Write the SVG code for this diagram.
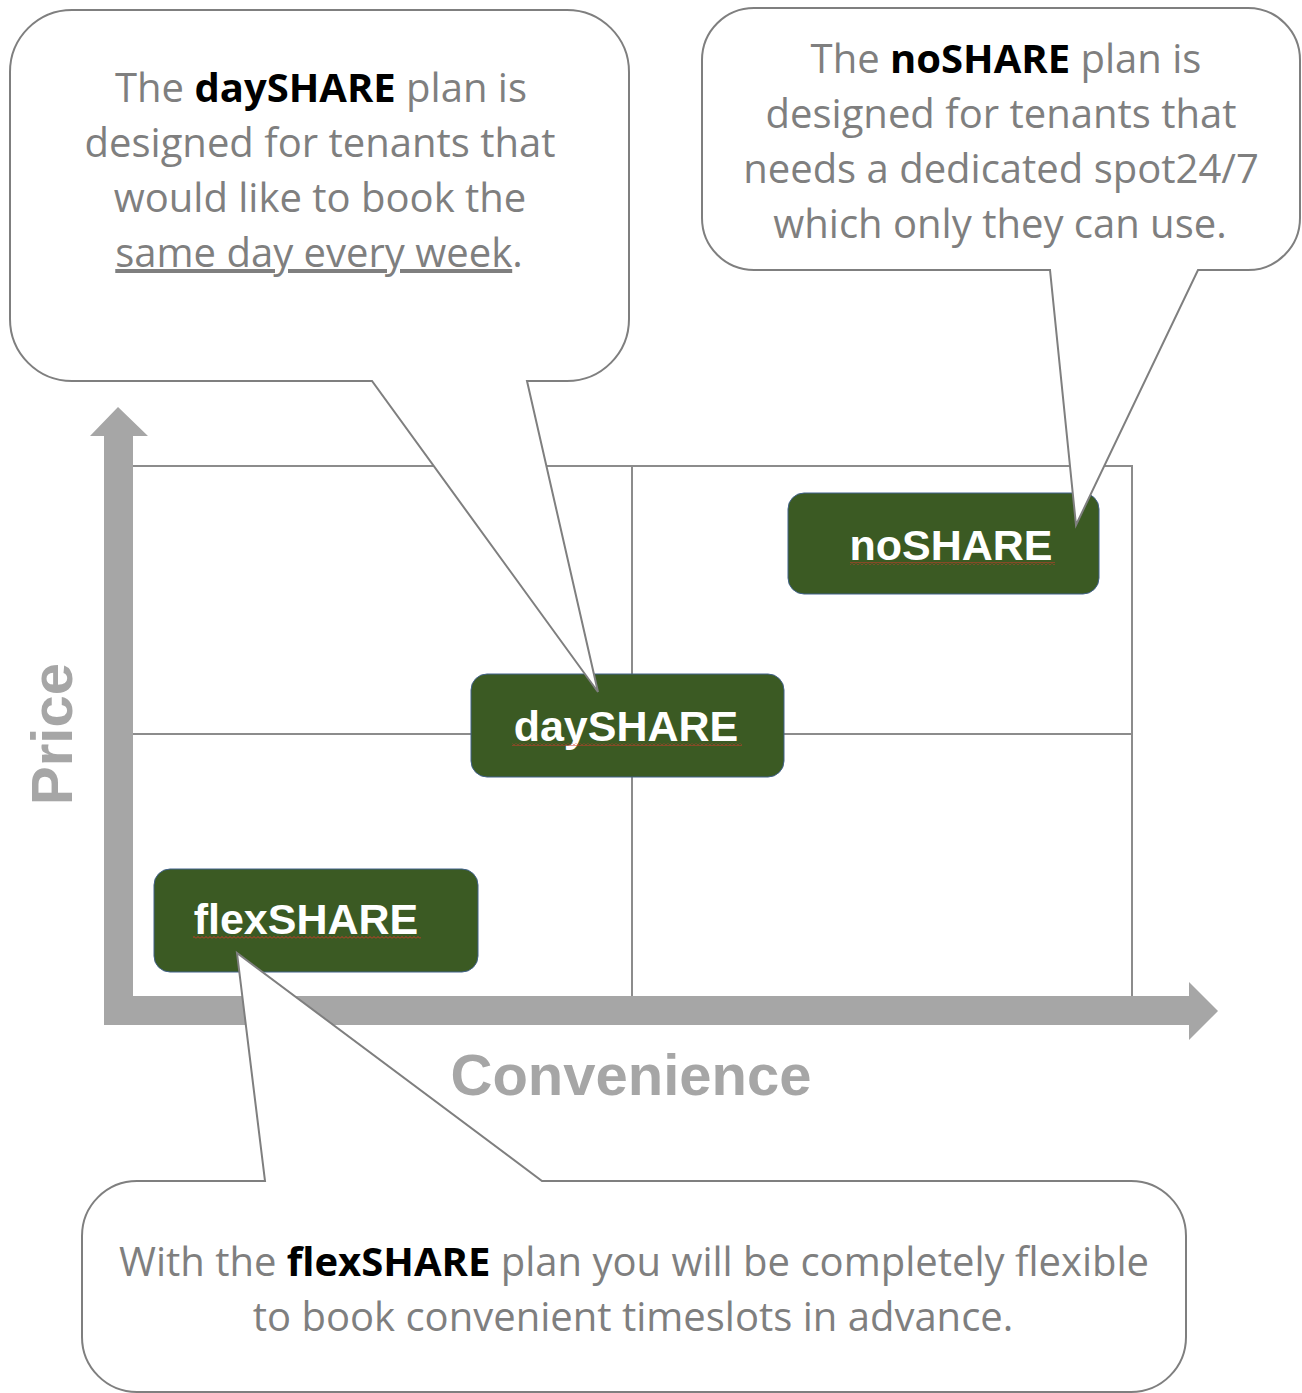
<svg xmlns="http://www.w3.org/2000/svg" width="1302" height="1393" viewBox="0 0 1302 1393">
<defs>
<style>
.bubble{fill:#ffffff;stroke:#7f7f7f;stroke-width:2;stroke-linejoin:miter}
.ct{font-family:"Open Sans","Noto Sans","Liberation Sans",sans-serif;font-size:40px;fill:#7f7f7f;text-anchor:middle}
.b{font-weight:bold;fill:#000000}
.grid{stroke:#8c8c8c;stroke-width:2;fill:none}
.axis{fill:#a6a6a6}
.axl{font-family:"Liberation Sans",Arial,sans-serif;font-weight:bold;font-size:58px;fill:#a6a6a6;text-anchor:middle}
.box{fill:#3b5a23;stroke:#41618a;stroke-width:1}
.bt{font-family:"Liberation Sans",Arial,sans-serif;font-weight:bold;font-size:43px;fill:#ffffff;text-anchor:middle}
</style>
<pattern id="wavy" x="0" y="0" width="4" height="3" patternUnits="userSpaceOnUse">
<path d="M0,2.5 L2,0.5 L4,2.5" fill="none" stroke="#d03a2a" stroke-width="1"/>
</pattern>
</defs>
<rect width="1302" height="1393" fill="#ffffff"/>

<g id="chart">
<line class="grid" x1="133" y1="466" x2="1133" y2="466"/>
<line class="grid" x1="133" y1="734" x2="1133" y2="734"/>
<line class="grid" x1="632" y1="466" x2="632" y2="997"/>
<line class="grid" x1="1132" y1="466" x2="1132" y2="997"/>
</g>

<g id="connectors">
<path id="y-axis" class="axis" d="M104,1025 V436 H90 L118,407 L148,436 H133 V1025 Z"/>
<path id="x-axis" class="axis" d="M104,996 H1189 V982 L1218,1011 L1189,1040 V1025 H104 Z"/>
</g>

<g id="label-price">
<text class="axl" transform="translate(72,734) rotate(-90)">Price</text>
</g>
<g id="label-convenience">
<text class="axl" x="631" y="1095">Convenience</text>
</g>

<g id="node-noshare">
<rect class="box" x="788" y="493" width="311" height="101" rx="16"/>
<text class="bt" x="951" y="560">noSHARE</text>
<rect x="850" y="562" width="205" height="3" fill="url(#wavy)"/>
</g>
<g id="node-dayshare">
<rect class="box" x="471" y="674" width="313" height="103" rx="16"/>
<text class="bt" x="626" y="741">daySHARE</text>
<rect x="512" y="743" width="230" height="3" fill="url(#wavy)"/>
</g>
<g id="node-flexshare">
<rect class="box" x="154" y="869" width="324" height="103" rx="16"/>
<text class="bt" x="306" y="934">flexSHARE</text>
<rect x="193" y="936" width="228" height="3" fill="url(#wavy)"/>
</g>

<g id="callout-dayshare">
<path class="bubble" d="M72,10 H567 A62,62 0 0 1 629,72 V319 A62,62 0 0 1 567,381 H527 L598,692 L372,381 H72 A62,62 0 0 1 10,319 V72 A62,62 0 0 1 72,10 Z"/>
<text class="ct" x="321" y="102">The <tspan class="b">daySHARE</tspan> plan is</text>
<text class="ct" x="320" y="157">designed for tenants that</text>
<text class="ct" x="320" y="212">would like to book the</text>
<text class="ct" x="319" y="267"><tspan text-decoration="underline">same day every week</tspan>.</text>
</g>

<g id="callout-noshare">
<path class="bubble" d="M754,8 H1248 A52,52 0 0 1 1300,60 V218 A52,52 0 0 1 1248,270 H1198 L1076,525 L1050,270 H754 A52,52 0 0 1 702,218 V60 A52,52 0 0 1 754,8 Z"/>
<text class="ct" x="1006" y="73">The <tspan class="b">noSHARE</tspan> plan is</text>
<text class="ct" x="1001" y="128">designed for tenants that</text>
<text class="ct" x="1001" y="183">needs a dedicated spot24/7</text>
<text class="ct" x="1000" y="238">which only they can use.</text>
</g>

<g id="callout-flexshare">
<path class="bubble" d="M137,1181 H265 L237,953 L542,1181 H1131 A55,55 0 0 1 1186,1236 V1337 A55,55 0 0 1 1131,1392 H137 A55,55 0 0 1 82,1337 V1236 A55,55 0 0 1 137,1181 Z"/>
<text class="ct" x="634" y="1276">With the <tspan class="b">flexSHARE</tspan> plan you will be completely flexible</text>
<text class="ct" x="633" y="1331">to book convenient timeslots in advance.</text>
</g>
</svg>
